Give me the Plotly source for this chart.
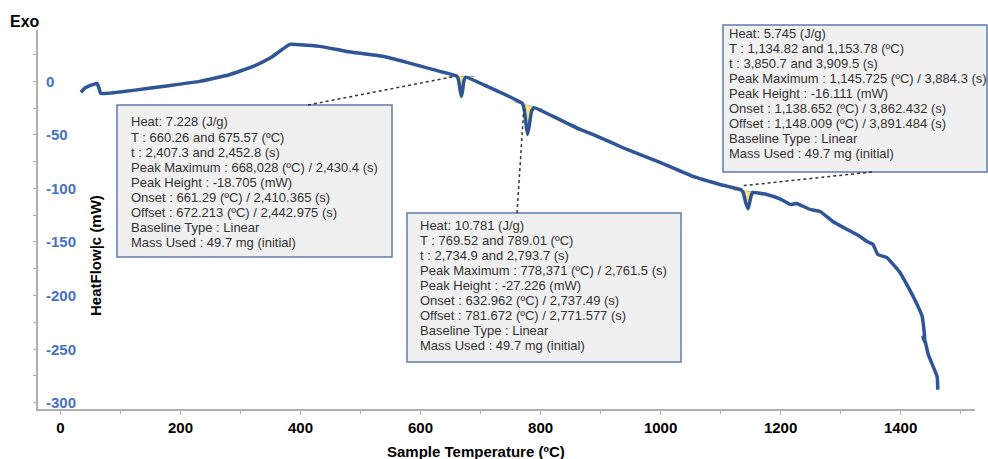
import plotly.graph_objects as go

# DSC heat-flow trace: sample temperature (ºC) vs heat flow (mW)
temp_base = [34, 40, 46, 55, 61, 64, 67, 90, 121, 180, 232, 280, 321, 350, 382, 400, 432,
             477, 537, 577, 620, 711, 740, 821, 866, 887, 944, 999, 1054, 1099, 1177, 1200,
             1216, 1227, 1249, 1266, 1287, 1311, 1330, 1344, 1354, 1362, 1377, 1399, 1421,
             1436, 1441, 1437, 1441, 1446, 1454, 1461, 1462]
flow_base = [-10.3, -6.5, -4.7, -2.8, -1.9, -6.0, -11.2, -10.5, -8.4, -4.0, 0.0, 6.0, 14.0,
             22.0, 34.6, 34.2, 32.7, 28.0, 23.4, 17.8, 11.2, -4.7, -12.0, -32.7, -44.9, -49.5,
             -63.6, -75.7, -88.8, -96.3, -105.6, -110.0, -115.0, -114.0, -119.6, -121.5,
             -130.8, -138.3, -144.0, -149.5, -152.3, -161.7, -164.5, -178.5, -201.0, -219.6,
             -244.0, -239.0, -243.0, -255.0, -266.0, -276.0, -288.0]

# Integrated peaks: integration limits, baseline at the limits, peak maximum and height
peak_t_start = [660.26, 769.52, 1134.82]
peak_t_end = [675.57, 789.01, 1153.78]
peak_base_start = [5.0, -20.5, -101.5]
peak_base_end = [4.0, -24.5, -103.7]
peak_t_max = [668.028, 778.371, 1145.725]
peak_height = [-18.705, -27.226, -16.111]

# Shape of each dip as fractions of the peak height at offsets from the maximum
dip_dt = [[-5.0, -2.0, 2.0, 4.2], [-5.4, -2.4, 2.6, 6.6], [-7.7, -3.7, 2.3, 5.3]]
dip_frac = [[0.15, 0.7, 0.7, 0.2], [0.2, 0.7, 0.7, 0.15], [0.15, 0.7, 0.7, 0.2]]

box_texts = [
    ["Heat: 7.228 (J/g)", "T : 660.26 and 675.57 (ºC)", "t : 2,407.3 and 2,452.8 (s)",
     "Peak Maximum : 668,028 (ºC) / 2,430.4 (s)", "Peak Height : -18.705 (mW)",
     "Onset : 661.29 (ºC) / 2,410.365 (s)", "Offset : 672.213 (ºC) / 2,442.975 (s)",
     "Baseline Type : Linear", "Mass Used : 49.7 mg (initial)"],
    ["Heat: 10.781 (J/g)", "T : 769.52 and 789.01 (ºC)", "t : 2,734.9 and 2,793.7 (s)",
     "Peak Maximum : 778,371 (ºC) / 2,761.5 (s)", "Peak Height : -27.226 (mW)",
     "Onset : 632.962 (ºC) / 2,737.49 (s)", "Offset : 781.672 (ºC) / 2,771.577 (s)",
     "Baseline Type : Linear", "Mass Used : 49.7 mg (initial)"],
    ["Heat: 5.745 (J/g)", "T : 1,134.82 and 1,153.78 (ºC)", "t : 3,850.7 and 3,909.5 (s)",
     "Peak Maximum : 1,145.725 (ºC) / 3,884.3 (s)", "Peak Height : -16.111 (mW)",
     "Onset : 1,138.652 (ºC) / 3,862.432 (s)", "Offset : 1,148.009 (ºC) / 3,891.484 (s)",
     "Baseline Type : Linear", "Mass Used : 49.7 mg (initial)"],
]

x_ticks = [0, 200, 400, 600, 800, 1000, 1200, 1400]
y_ticks = [0, -50, -100, -150, -200, -250, -300]

X_RANGE = [-37.5, 1524]
Y_RANGE = [-306, 48]

# Plot area in page pixels
W, H = 988, 459
PL, PR, PT, PB = 38, 975, 30, 409

FONT = "Liberation Sans, Arial"


def paper_x(px):
    return (px - PL) / (PR - PL)


def paper_y(py):
    return (PB - py) / (PB - PT)


def data_x(px):
    return X_RANGE[0] + (px - PL) / (PR - PL) * (X_RANGE[1] - X_RANGE[0])


def data_y(py):
    return Y_RANGE[1] - (py - PT) / (PB - PT) * (Y_RANGE[1] - Y_RANGE[0])


def baseline_at(i, t):
    f = (t - peak_t_start[i]) / (peak_t_end[i] - peak_t_start[i])
    return peak_base_start[i] + f * (peak_base_end[i] - peak_base_start[i])


# Points of each endothermic dip, built from the stated peak maximum and height
peak_pts = []
for i in range(3):
    seg = [(peak_t_start[i], peak_base_start[i])]
    for dt, fr in zip(dip_dt[i][:2], dip_frac[i][:2]):
        t = peak_t_max[i] + dt
        seg.append((t, baseline_at(i, t) + fr * peak_height[i]))
    seg.append((peak_t_max[i], baseline_at(i, peak_t_max[i]) + peak_height[i]))
    for dt, fr in zip(dip_dt[i][2:], dip_frac[i][2:]):
        t = peak_t_max[i] + dt
        seg.append((t, baseline_at(i, t) + fr * peak_height[i]))
    seg.append((peak_t_end[i], peak_base_end[i]))
    peak_pts.append(seg)

# Merge the dips into the base trace
xs, ys = [], []
inserted = [False, False, False]
for t, f in zip(temp_base, flow_base):
    for i in range(3):
        if not inserted[i] and t > peak_t_start[i] and xs and xs[-1] < peak_t_start[i]:
            for pt, pf in peak_pts[i]:
                xs.append(pt)
                ys.append(pf)
            inserted[i] = True
    xs.append(t)
    ys.append(f)

LINE_BLUE = "#2F5597"
AXIS_GREY = "#B0B0B0"

fig = go.Figure()

# Baseline marks and shaded area at each integrated peak
for i in range(3):
    t0 = peak_t_start[i] - 14
    t1 = peak_t_end[i] + 14
    fig.add_trace(go.Scatter(
        x=[t0, t1], y=[baseline_at(i, t0) - 1.5, baseline_at(i, t1) + 1.5],
        mode="lines", line=dict(color="#A0A0A0", width=1), hoverinfo="skip",
        showlegend=False))
    fx = [p[0] for p in peak_pts[i]]
    fy = [p[1] for p in peak_pts[i]]
    fig.add_trace(go.Scatter(
        x=fx + fx[::-1], y=fy + [baseline_at(i, t) for t in fx[::-1]],
        mode="lines", fill="toself", fillcolor="rgba(250,225,110,0.9)",
        line=dict(width=0), hoverinfo="skip", showlegend=False))

fig.add_trace(go.Scatter(
    x=xs, y=ys, mode="lines",
    line=dict(color=LINE_BLUE, width=3.5, shape="spline", smoothing=0.3),
    showlegend=False, hoverinfo="skip"))

shapes = []
annotations = []

# Result boxes: (left, top, right, bottom, text x, first line y) in page pixels
boxes = [
    (117, 105, 392, 257, 129, 122),
    (407, 213, 681, 362, 418, 225),
    (723, 25, 987, 172, 727, 33),
]
LINE_STEP = 15
for (l, t, r, b, tx, ty), lines in zip(boxes, box_texts):
    shapes.append(dict(type="rect", xref="paper", yref="paper",
                       x0=paper_x(l), x1=paper_x(r), y0=paper_y(b), y1=paper_y(t),
                       fillcolor="#F0F0F0", line=dict(color="#5D7CAB", width=1.5),
                       layer="above"))
    for k, txt in enumerate(lines):
        annotations.append(dict(
            x=paper_x(tx), y=paper_y(ty + k * LINE_STEP), xref="paper", yref="paper",
            text=txt, showarrow=False, xanchor="left", yanchor="middle",
            font=dict(family=FONT, size=13, color="#333333")))

# Dotted leaders from each box to its peak
leaders = [
    ((308, 105), (peak_t_start[0], peak_base_start[0])),
    ((517, 213), (peak_t_start[1] + 2.5, baseline_at(1, peak_t_start[1] + 2.5) - 5)),
    ((872, 172), (peak_t_start[2] + 1, peak_base_start[2] + 4)),
]
for (bx, by), (pt, pf) in leaders:
    shapes.append(dict(type="line", xref="x", yref="y",
                       x0=data_x(bx), y0=data_y(by), x1=pt, y1=pf,
                       line=dict(color="#333333", width=1.5, dash="dot"),
                       layer="above"))

# Heat-flow tick labels sit inside the plot, right of the axis line
for v in y_ticks:
    annotations.append(dict(x=paper_x(44), y=v, xref="paper", yref="y",
                            text=f"<b>{v}</b>", showarrow=False, xanchor="left",
                            yanchor="middle",
                            font=dict(family=FONT, size=15, color="#4472C4")))

annotations.append(dict(x=paper_x(25), y=paper_y(21), xref="paper", yref="paper",
                        text="<b>Exo</b>", showarrow=False, xanchor="center",
                        yanchor="middle", font=dict(family=FONT, size=16, color="#000000")))
annotations.append(dict(x=paper_x(95), y=paper_y(256), xref="paper", yref="paper",
                        text="<b>HeatFlow|c (mW)</b>", showarrow=False, textangle=-90,
                        xanchor="center", yanchor="middle",
                        font=dict(family=FONT, size=15, color="#000000")))
annotations.append(dict(x=paper_x(476), y=paper_y(451), xref="paper", yref="paper",
                        text="<b>Sample Temperature (ºC)</b>", showarrow=False,
                        xanchor="center", yanchor="middle",
                        font=dict(family=FONT, size=15, color="#000000")))

fig.update_layout(
    width=W, height=H,
    margin=dict(l=PL, r=W - PR, t=PT, b=H - PB, pad=0),
    paper_bgcolor="white", plot_bgcolor="white",
    shapes=shapes, annotations=annotations,
    xaxis=dict(range=X_RANGE, tickvals=x_ticks, ticktext=[f"<b>{v}</b>" for v in x_ticks],
               showgrid=False, zeroline=False, showline=True, linecolor=AXIS_GREY,
               linewidth=1.5, ticks="outside", ticklen=4, tickcolor=AXIS_GREY,
               minor=dict(dtick=100, tick0=0, ticks="outside", ticklen=3,
                          tickcolor=AXIS_GREY, showgrid=False),
               tickfont=dict(family=FONT, size=15, color="#000000")),
    yaxis=dict(range=Y_RANGE, tickvals=y_ticks, showticklabels=False,
               showgrid=False, zeroline=False, showline=True, linecolor=AXIS_GREY,
               linewidth=1.5, ticks="outside", ticklen=3, tickcolor=AXIS_GREY,
               minor=dict(dtick=25, tick0=0, ticks="outside", ticklen=3,
                          tickcolor=AXIS_GREY, showgrid=False)),
)

fig.write_html("out.html")
